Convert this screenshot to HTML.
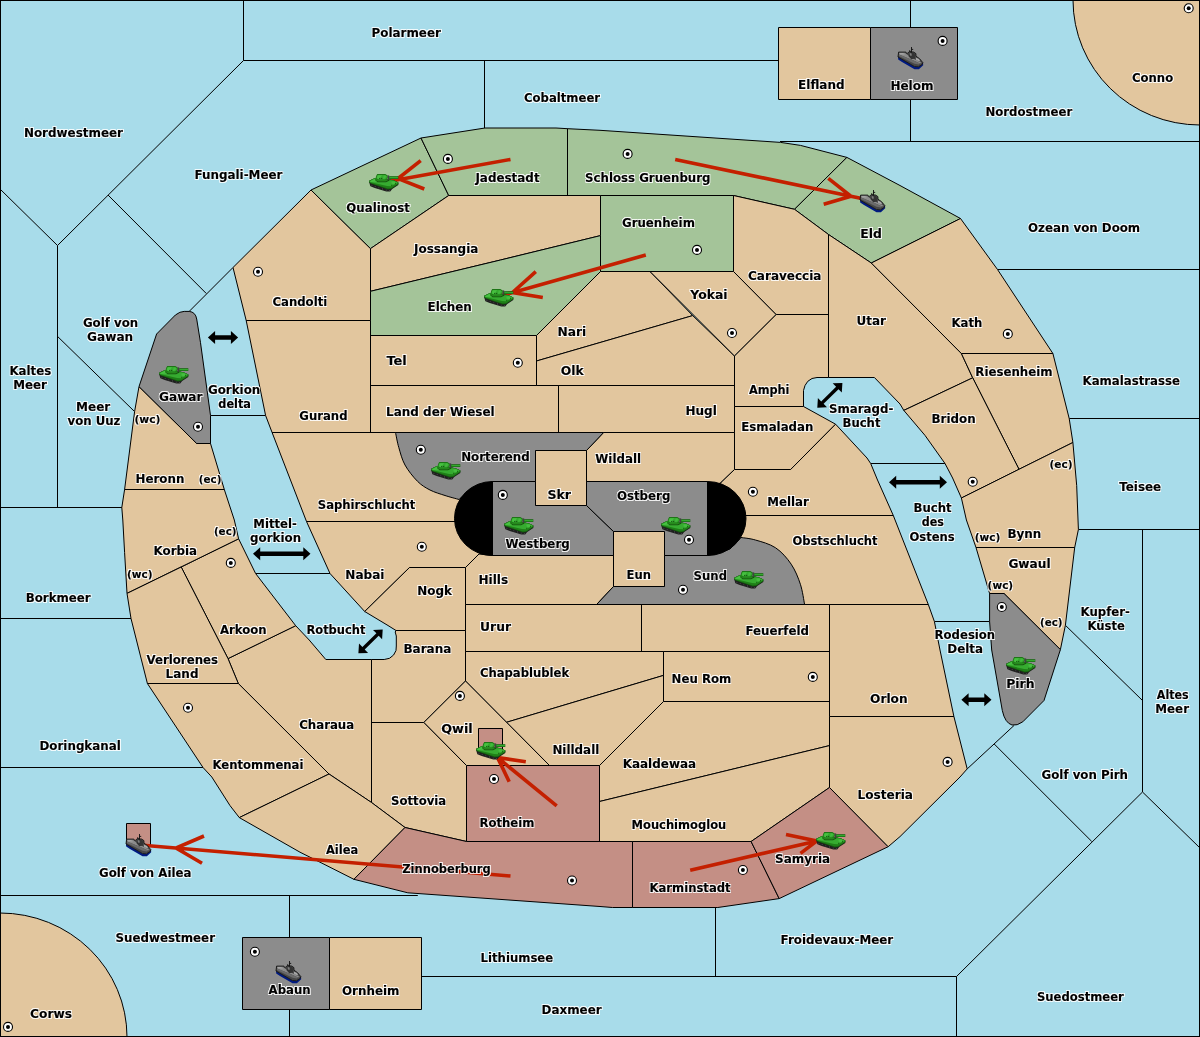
<!DOCTYPE html>
<html lang="de"><head><meta charset="utf-8"><title>Karte</title>
<style>html,body{margin:0;padding:0;background:#a8dcea}svg{display:block}.t{font-family:"DejaVu Sans","Liberation Sans",sans-serif;font-weight:bold;font-size:12px;fill:#000;stroke:#000;stroke-width:.12px}.s{font-size:10.5px}.b{stroke:#000;stroke-width:1}.l{fill:none;stroke:#000;stroke-width:1}.a{stroke:#c42000;stroke-width:3.6;fill:none;stroke-linecap:butt}</style></head><body>
<svg width="1200" height="1037" viewBox="0 0 1200 1037">
<defs>
<g id="tank"><polygon points="0.3,6.7 6.1,3.9 20.8,5.6 25,6.5 29.3,8.6 29.3,11 23.2,15 21.2,17.5 17.3,17.5 5.7,14 1.4,12.2 0.2,8.6" fill="#1f1f1f"/><g fill="#4e4e4e"><circle cx="2.9" cy="11.3" r=".55"/><circle cx="6.2" cy="12.5" r=".55"/><circle cx="9.8" cy="13.7" r=".55"/><circle cx="13.5" cy="14.9" r=".55"/><circle cx="17.2" cy="16.1" r=".55"/><circle cx="20.6" cy="16.4" r=".5"/></g><polygon points="0.3,6.7 6.1,3.9 20.8,5.6 25,6.5 29.3,8.6 29.3,10.3 22.2,15 18.7,15.5 1.7,9.5 0.2,8.5" fill="#155a0e"/><polygon points="0.3,6.7 6.1,3.9 20.8,5.6 25,6.5 29.3,8.6 29.3,9.7 22.2,14.2 18.7,14.6 1.7,8.9 0.3,8.1" fill="#1f7f18"/><polygon points="0.7,7 6.1,4.3 25,6.8 28.9,8.8 21.8,12.2 18,11.9 0.8,8.1" fill="#36ab30"/><polygon points="1.2,7.2 6.1,4.8 8,5 8,7.6 2,8" fill="#48c242"/><polygon points="22.4,7.4 25,7.3 28.2,8.9 24.6,10.2 22.6,9.6" fill="#45be3f"/><rect x="26" y="8.8" width="1" height="1" fill="#15550e"/><rect x="22.2" y="10.8" width="1" height="1" fill="#15550e"/><polygon points="6.45,4.75 8.9,6.1 16.6,6.1 18.7,4.75 20.6,6.6 17,8.3 8.6,8.2 6.2,6.3" fill="#14500d"/><polygon points="6.45,4.6 8.9,6 16.6,6 18.7,4.6 18.7,6.4 16.6,7.5 8.9,7.5 6.45,6.1" fill="#25891c"/><rect x="18.5" y="1.4" width="1.7" height="4.2" fill="#414141"/><rect x="20.1" y="2.2" width="9.2" height="2.8" fill="#176312"/><rect x="20.4" y="2.9" width="8.6" height="1.4" fill="#33aa2e"/><polygon points="8.2,0.1 16.3,0.1 18.7,1.4 18.7,3.8 16.6,6.1 8.9,6.1 6.45,4.75 7.15,1.95" fill="#1d7516"/><polygon points="8.5,0.9 16.1,0.9 17.9,2 17.9,3.7 16.2,5.4 9.2,5.4 7.4,4.3 7.9,2.2" fill="#35a92f"/><polygon points="9.2,1.2 13,1.2 10.4,5 9.4,5 8,4.2 8.4,2.3" fill="#47c041"/><polygon points="14.6,1.6 16.4,1.6 17.4,2.4 15.4,4.8 14,4.8" fill="#42b93c"/><rect x="10.2" y="3.9" width="1" height="1" fill="#0f4209"/><rect x="12.2" y="3.9" width="1" height="1" fill="#0f4209"/></g>
<g id="ship"><polygon points="0,9.5 0.2,12.4 4,15 16.5,22.2 20.9,22.2 25.2,18.2 25,15.6 20.4,19.8 16.5,19.5" fill="#001a80"/><polygon points="0.6,5.1 7.5,5.1 9.2,6.6 11.2,4.6 13,4.9 15.5,5 17.9,6.6 18,9.2 21.6,11.7 24.9,15.7 24,17.7 20.4,19.8 16.5,19.5 0,10" fill="#474747" stroke="#141414" stroke-width="0.9" stroke-linejoin="round"/><polygon points="1.2,5.8 6.8,5.8 11,9 17,12.4 23.6,15.8 22,16.6 15,13.2 1,7.4" fill="#8c8c8c"/><polygon points="1,7.4 15,13.2 22,16.6 20.8,17.6 16.5,16.8 0.8,9" fill="#6a6a6a"/><polygon points="17.8,10.6 21,12 22.4,14.4 18.2,13.2" fill="#a8a8a8"/><polygon points="1.4,5.9 5,5.9 7,7.6 2.4,7.4" fill="#a4a4a4"/><polygon points="10.6,6.4 12.4,5.4 15.2,5.6 16.9,7.2 17,11.6 13.2,12.2 10.8,9.6" fill="#333"/><polygon points="11.4,6.6 13.2,6 14,8.4 12.2,8.8" fill="#7e7e7e"/><path d="M13.5,0 V5.6 M11.6,3.2 L12.3,5.2 M13.5,2.4 H15.2" stroke="#0e0e0e" stroke-width="0.9" fill="none"/></g>
<filter id="n" color-interpolation-filters="sRGB" filterUnits="userSpaceOnUse" x="0" y="0" width="1200" height="1037"><feComponentTransfer in="SourceAlpha" result="a"><feFuncA type="linear" slope="2.2" intercept="-0.7"/></feComponentTransfer><feMorphology in="a" operator="dilate" radius="1" result="d"/><feFlood flood-color="#fff" flood-opacity=".85"/><feComposite in2="d" operator="in" result="h"/><feMerge><feMergeNode in="h"/><feMergeNode in="SourceGraphic"/></feMerge></filter>
</defs>
<rect x="0" y="0" width="1200" height="1037" fill="#a8dcea"/>
<polyline class="l" points="243.5,0 243.5,60.5 778.5,60.5"/>
<polyline class="l" points="243.5,60.5 57.5,245.5"/>
<polyline class="l" points="0,189 57.5,245.5 57.5,507.5"/>
<polyline class="l" points="0,507.5 122,507.5"/>
<polyline class="l" points="108,195 206.3,293.5"/>
<polyline class="l" points="189.2,311.4 233,267.5"/>
<polyline class="l" points="57.5,336.4 134.6,411.6"/>
<polyline class="l" points="484.5,60.5 484.5,128"/>
<polyline class="l" points="910.5,0 910.5,141.5"/>
<polyline class="l" points="780,141.5 1200,141.5"/>
<polyline class="l" points="997.5,269.5 1200,269.5"/>
<polyline class="l" points="1069.2,418.5 1200,418.5"/>
<polyline class="l" points="1078.4,529.5 1200,529.5"/>
<polyline class="l" points="1142.5,529.5 1142.5,792"/>
<polyline class="l" points="1065.4,625.3 1142.5,700.5"/>
<polyline class="l" points="956.5,1037 956.5,976.5 1142.5,792 1200,848"/>
<polyline class="l" points="994,743.8 1091.7,841.4"/>
<polyline class="l" points="1014,725.5 967.2,768.9"/>
<polyline class="l" points="421.5,976.5 956.5,976.5"/>
<polyline class="l" points="715.5,907.5 715.5,976.5"/>
<polyline class="l" points="0,895.5 417.8,895.5"/>
<polyline class="l" points="289.5,895.5 289.5,1037"/>
<polyline class="l" points="0,767.5 203,767.5"/>
<polyline class="l" points="0,618.5 131,618.5"/>
<polyline class="l" points="210.5,415.5 265.7,415.5"/>
<polyline class="l" points="255.6,573.5 330,573.5"/>
<polyline class="l" points="870.7,463.5 945,463.5"/>
<polyline class="l" points="934.4,621.5 989.5,621.5"/>
<ellipse class="b" cx="1200" cy="0" rx="127" ry="125" fill="#e2c69e"/>
<ellipse class="b" cx="0" cy="1037" rx="127" ry="124" fill="#e2c69e"/>
<polygon class="b" fill="#e2c69e" points="233,267.5 311,190 370.5,248.6 370.5,320.5 246.2,320.5"/>
<polygon class="b" fill="#a4c499" points="311,190 421,138 448.7,195.5 370.5,248.6"/>
<polygon class="b" fill="#a4c499" points="421,138 485,128 556,128 567.5,128.7 567.5,195.5 448.7,195.5"/>
<polygon class="b" fill="#a4c499" points="567.5,128.7 600,130.3 780.5,142.4 800.5,145.4 846.9,157.4 794.5,209.3 733.5,195.5 567.5,195.5"/>
<polygon class="b" fill="#a4c499" points="846.9,157.4 900,185.5 960.5,218.5 871.3,263 828.5,234.5 794.5,209.3"/>
<polygon class="b" fill="#a4c499" points="600.5,195.5 733.5,195.5 733.5,271.5 600.5,271.5"/>
<polygon class="b" fill="#e2c69e" points="370.5,248.6 448.7,195.5 600.5,195.5 600.5,235.6 500.5,260 370.5,291.3"/>
<polygon class="b" fill="#a4c499" points="370.5,291.3 500.5,260 600.5,235.6 600.5,271.5 536.5,335.5 370.5,335.5"/>
<polygon class="b" fill="#e2c69e" points="370.5,335.5 536.5,335.5 536.5,385.5 370.5,385.5"/>
<polygon class="b" fill="#e2c69e" points="370.5,385.5 558.5,385.5 558.5,432.5 370.5,432.5"/>
<polygon class="b" fill="#e2c69e" points="246.2,320.5 370.5,320.5 370.5,432.5 272.1,432.5 265.6,415.5"/>
<polygon class="b" fill="#e2c69e" points="536.5,335.5 600.5,271.5 650,271.5 692.7,315.6 536.5,361"/>
<polygon class="b" fill="#e2c69e" points="536.5,361 692.7,315.6 734.5,356 734.5,385.5 536.5,385.5"/>
<polygon class="b" fill="#e2c69e" points="558.5,385.5 734.5,385.5 734.5,432.5 558.5,432.5"/>
<polygon class="b" fill="#e2c69e" points="650,271.5 733.5,271.5 776.2,314.5 734.5,356"/>
<polygon class="b" fill="#e2c69e" points="733.5,271.5 733.5,195.5 794.5,209.3 828.5,234.5 828.5,314.5 776.2,314.5"/>
<polygon class="b" fill="#e2c69e" points="776.2,314.5 828.5,314.5 828.5,377.5 817,377.5 812,378.5 807.8,381.3 805,385.5 803.5,390.5 803.5,406.5 734.5,406.5 734.5,356"/>
<polygon class="b" fill="#e2c69e" points="828.5,234.5 871.3,263 961.4,353.5 972.7,377.8 903.8,410.4 900,404 874.4,377.5 828.5,377.5"/>
<polygon class="b" fill="#e2c69e" points="871.3,263 960.5,218.5 997.5,269.5 1052.9,353.5 961.4,353.5"/>
<polygon class="b" fill="#e2c69e" points="961.4,353.5 1052.9,353.5 1069.2,418.5 1072.9,442.5 1019,469.3 972.7,377.8"/>
<polygon class="b" fill="#e2c69e" points="972.7,377.8 903.8,410.4 925,435.4 945,463.5 952.6,478 961.4,498 1019,469.3"/>
<polygon class="b" fill="#e2c69e" points="961.4,498 1019,469.3 1072.9,442.5 1076.7,485.6 1078.4,529.5 1074.7,547.5 976,547.5 966.4,520"/>
<polygon class="b" fill="#e2c69e" points="976,547.5 1074.7,547.5 1065.4,625.3 1060.4,649.6 1004,593.5 989.6,593.5"/>
<polygon class="b" fill="#e2c69e" points="734.5,406.5 803.5,406.5 835.6,424.2 790.6,469.5 734.5,469.5"/>
<polygon class="b" fill="#e2c69e" points="603.6,432.5 734.5,432.5 734.5,469.5 721,482.5 707.5,490 586.5,490 586.5,450.5"/>
<polygon class="b" fill="#e2c69e" points="734.5,469.5 790.6,469.5 835.6,424.2 867,458 870.7,463.5 877.5,480 893.3,515.5 735,515.5 707.5,500 721,482.5"/>
<polygon class="b" fill="#e2c69e" points="735,515.5 893.3,515.5 928.3,604.5 780,604.5 735,560"/>
<polygon class="b" fill="#e2c69e" points="272.1,432.5 470,432.5 470,521.5 306.5,521.5"/>
<polygon class="b" fill="#e2c69e" points="306.5,521.5 470,521.5 485,554 479,554 465.5,567.5 409.5,567.5 364.7,611.5 330,573.5"/>
<polygon class="b" fill="#e2c69e" points="409.5,567.5 465.5,567.5 465.5,630.5 396,630.5 388,625.5 364.7,611.5"/>
<polygon class="b" fill="#e2c69e" points="479,554 493,555.5 613.5,555.5 613.5,586.5 596.6,604.5 465.5,604.5 465.5,567.5"/>
<polygon class="b" fill="#e2c69e" points="465.5,604.5 641.5,604.5 641.5,651.5 465.5,651.5"/>
<polygon class="b" fill="#e2c69e" points="641.5,604.5 829.5,604.5 829.5,651.5 641.5,651.5"/>
<polygon class="b" fill="#e2c69e" points="396,630.5 465.5,630.5 465.5,681 423.8,722.5 371.5,722.5 371.5,659.5 384.2,659.5 389.5,658.3 393.6,655 396,650.5 396.3,646 396.3,636 395.2,632"/>
<polygon class="b" fill="#e2c69e" points="465.5,651.5 663.5,651.5 663.5,675.4 506.5,722.3 465.5,681"/>
<polygon class="b" fill="#e2c69e" points="663.5,651.5 829.5,651.5 829.5,701.5 663.5,701.5"/>
<polygon class="b" fill="#e2c69e" points="506.5,722.3 663.5,675.4 663.5,701.5 599.5,765.5 549.5,765.5"/>
<polygon class="b" fill="#e2c69e" points="465.5,681 549.5,765.5 466.5,765.5 423.8,722.5"/>
<polygon class="b" fill="#e2c69e" points="663.5,701.5 829.5,701.5 829.5,745.6 599.5,801.5 599.5,765.5"/>
<polygon class="b" fill="#e2c69e" points="599.5,801.5 829.5,745.6 829.5,787.5 751.1,841.5 599.5,841.5"/>
<polygon class="b" fill="#c48f85" points="466.5,765.5 599.5,765.5 599.5,841.5 466.5,841.5"/>
<polygon class="b" fill="#c48f85" points="478.5,728.5 502.5,728.5 502.5,753.5 478.5,753.5"/>
<polygon class="b" fill="#e2c69e" points="371.5,722.5 423.8,722.5 466.5,765.5 466.5,841.5 405,827.5 371.5,802.5"/>
<polygon class="b" fill="#e2c69e" points="228,658.6 295.7,625.7 309.2,640 325.8,659.5 371.5,659.5 371.5,802.5 329,774 238.3,683.5"/>
<polygon class="b" fill="#e2c69e" points="238.6,538.8 255.6,573.5 295.7,625.7 228,658.6 181.2,567"/>
<polygon class="b" fill="#e2c69e" points="124.6,489.5 224.3,489.5 234.3,520 238.6,538.8 127,593.4 124.6,552.6 122.8,520 121.8,507.5"/>
<polygon class="b" fill="#e2c69e" points="139,386.6 196.7,443.5 210.5,443.5 224.3,489.5 124.6,489.5 134.6,411.6"/>
<polygon class="b" fill="#e2c69e" points="127,593.4 181.2,567 228,658.6 238.3,683.5 147.4,683.5 131,618.5"/>
<polygon class="b" fill="#e2c69e" points="147.4,683.5 238.3,683.5 329,774 239.3,817.6 230,805.6 211.8,777 203,767.5"/>
<polygon class="b" fill="#e2c69e" points="329,774 371.5,802.5 405,827.5 353.9,879.3 320,862.2 300,852.2 239.3,817.6"/>
<polygon class="b" fill="#c48f85" points="405,827.5 466.5,841.5 632.5,841.5 632.5,907.5 612.5,907.5 600,906.5 407.8,892.8 353.9,879.3"/>
<polygon class="b" fill="#c48f85" points="632.5,841.5 751.1,841.5 779.2,898.6 717.8,907.5 632.5,907.5"/>
<polygon class="b" fill="#c48f85" points="751.1,841.5 829.5,787.5 888.2,846.7 779.2,898.6"/>
<polygon class="b" fill="#e2c69e" points="829.5,716.5 953.9,716.5 967.2,768.9 960,777 900,836.6 888.2,846.7 829.5,787.5"/>
<polygon class="b" fill="#e2c69e" points="829.5,604.5 928.3,604.5 934.4,621.5 940,650 953.9,716.5 829.5,716.5"/>
<polygon class="b" fill="#e2c69e" points="778.5,27.5 870.5,27.5 870.5,99.5 778.5,99.5"/>
<polygon class="b" fill="#8c8c8c" points="870.5,27.5 957.5,27.5 957.5,99.5 870.5,99.5"/>
<polygon class="b" fill="#8c8c8c" points="242.5,937.5 329.5,937.5 329.5,1009.5 242.5,1009.5"/>
<polygon class="b" fill="#e2c69e" points="329.5,937.5 421.5,937.5 421.5,1009.5 329.5,1009.5"/>
<polygon class="b" fill="#c48f85" points="126.5,823.5 150.5,823.5 150.5,845.5 126.5,845.5"/>
<polygon class="b" fill="#e2c69e" points="535.5,450.5 586.5,450.5 586.5,505.5 535.5,505.5"/>
<polygon class="b" fill="#e2c69e" points="613.5,531.5 664.5,531.5 664.5,586.5 613.5,586.5"/>
<polygon class="b" fill="#8c8c8c" points="492.5,481.5 535.5,481.5 535.5,505.5 586.5,505.5 613.5,531.5 613.5,555.5 492.5,555.5"/>
<polygon class="b" fill="#8c8c8c" points="586.5,481.5 707.5,481.5 707.5,555.5 664.5,555.5 664.5,531.5 613.5,531.5 586.5,505.5"/>
<path class="b" fill="#8c8c8c" d="M395.5,432.5 L603.6,432.5 L586.5,450.5 L535.5,450.5 L535.5,481.5 L492.5,481.5 L470,490 L459,499.5 C456.7,498.8 449.8,497.1 445,495.5 C440.2,493.9 434.6,492.4 430,490 C425.4,487.6 421.7,485.5 417.5,481.3 C413.3,477.1 408.1,470.6 405,465 C401.9,459.4 400.4,452.9 398.8,447.5 C397.2,442.1 396.1,435.0 395.5,432.5 Z"/>
<path class="b" fill="#8c8c8c" d="M596.6,604.5 L613.5,586.5 L664.5,586.5 L664.5,555.5 L707.5,555.5 L730,549 L741,537.5 C743.4,537.9 749.6,538.3 755.4,540 C761.2,541.7 769.6,543.8 775.6,547.8 C781.6,551.8 787.1,558.1 791.2,564.2 C795.3,570.3 798.2,577.6 800.4,584.3 C802.6,591.0 803.9,601.1 804.6,604.5 Z"/>
<path class="b" fill="#8c8c8c" d="M139,386.6 L156.6,334 L175.4,315 Q180,311.4 184.2,311.4 L189.2,311.4 Q195.5,312 196.7,319 L200.5,342.7 L210.5,415.5 L210.5,443.5 L196.7,443.5 Z"/>
<path class="b" fill="#8c8c8c" d="M989.6,593.5 L1004,593.5 L1060.4,649.6 L1044,700.5 L1022.8,721.8 Q1017,726 1012,725 Q1005,723 1002.3,710.5 L991.7,650 L989.6,621.5 Z"/>
<path d="M492.5,481.5 A38,37 0 0 0 492.5,555.5 Z" fill="#000" stroke="#000" stroke-width="1"/>
<path d="M707.5,481.5 A38.5,37 0 0 1 707.5,555.5 Z" fill="#000" stroke="#000" stroke-width="1"/>
<rect x="0.5" y="0.5" width="1199" height="1036" fill="none" stroke="#000" stroke-width="1"/>
<polygon fill="#000" points="207.9,337.5 215.1,344 215.1,339.7 230.9,339.7 230.9,344 238.1,337.5 230.9,331 230.9,335.3 215.1,335.3 215.1,331"/>
<polygon fill="#000" points="889,482.3 896.2,488.8 896.2,484.5 939.8,484.5 939.8,488.8 947,482.3 939.8,475.8 939.8,480.1 896.2,480.1 896.2,475.8"/>
<polygon fill="#000" points="253,553.8 260.2,560.3 260.2,556 303.3,556 303.3,560.3 310.5,553.8 303.3,547.3 303.3,551.6 260.2,551.6 260.2,547.3"/>
<polygon fill="#000" points="961.4,699.7 968.6,706.2 968.6,701.9 984.3,701.9 984.3,706.2 991.5,699.7 984.3,693.2 984.3,697.5 968.6,697.5 968.6,693.2"/>
<polygon fill="#000" points="817.3,407.7 827,407.3 823.6,403.8 838.5,389.2 841.8,392.6 842.4,382.9 832.7,383.3 836.1,386.8 821.2,401.4 817.9,398"/>
<polygon fill="#000" points="358.4,653.3 368.1,652.9 364.7,649.5 378.7,635.8 382.1,639.2 382.7,629.5 373,629.9 376.4,633.3 362.4,647 359,643.6"/>
<circle cx="447.9" cy="158.9" r="4.5" fill="#fff" stroke="#000" stroke-width="1.1"/><circle cx="447.9" cy="158.9" r="2" fill="#000"/>
<circle cx="627.6" cy="153.9" r="4.5" fill="#fff" stroke="#000" stroke-width="1.1"/><circle cx="627.6" cy="153.9" r="2" fill="#000"/>
<circle cx="697" cy="249.9" r="4.5" fill="#fff" stroke="#000" stroke-width="1.1"/><circle cx="697" cy="249.9" r="2" fill="#000"/>
<circle cx="942.6" cy="40.9" r="4.5" fill="#fff" stroke="#000" stroke-width="1.1"/><circle cx="942.6" cy="40.9" r="2" fill="#000"/>
<circle cx="1188.7" cy="8.3" r="4.5" fill="#fff" stroke="#000" stroke-width="1.1"/><circle cx="1188.7" cy="8.3" r="2" fill="#000"/>
<circle cx="198" cy="426.7" r="4.5" fill="#fff" stroke="#000" stroke-width="1.1"/><circle cx="198" cy="426.7" r="2" fill="#000"/>
<circle cx="258" cy="271.8" r="4.5" fill="#fff" stroke="#000" stroke-width="1.1"/><circle cx="258" cy="271.8" r="2" fill="#000"/>
<circle cx="517.8" cy="362.8" r="4.5" fill="#fff" stroke="#000" stroke-width="1.1"/><circle cx="517.8" cy="362.8" r="2" fill="#000"/>
<circle cx="420.8" cy="449.7" r="4.5" fill="#fff" stroke="#000" stroke-width="1.1"/><circle cx="420.8" cy="449.7" r="2" fill="#000"/>
<circle cx="502.8" cy="494.9" r="4.5" fill="#fff" stroke="#000" stroke-width="1.1"/><circle cx="502.8" cy="494.9" r="2" fill="#000"/>
<circle cx="732" cy="333" r="4.5" fill="#fff" stroke="#000" stroke-width="1.1"/><circle cx="732" cy="333" r="2" fill="#000"/>
<circle cx="752.9" cy="491.8" r="4.5" fill="#fff" stroke="#000" stroke-width="1.1"/><circle cx="752.9" cy="491.8" r="2" fill="#000"/>
<circle cx="1007.8" cy="333.9" r="4.5" fill="#fff" stroke="#000" stroke-width="1.1"/><circle cx="1007.8" cy="333.9" r="2" fill="#000"/>
<circle cx="972.7" cy="481.8" r="4.5" fill="#fff" stroke="#000" stroke-width="1.1"/><circle cx="972.7" cy="481.8" r="2" fill="#000"/>
<circle cx="230.8" cy="562.9" r="4.5" fill="#fff" stroke="#000" stroke-width="1.1"/><circle cx="230.8" cy="562.9" r="2" fill="#000"/>
<circle cx="188" cy="707.7" r="4.5" fill="#fff" stroke="#000" stroke-width="1.1"/><circle cx="188" cy="707.7" r="2" fill="#000"/>
<circle cx="421.8" cy="546.8" r="4.5" fill="#fff" stroke="#000" stroke-width="1.1"/><circle cx="421.8" cy="546.8" r="2" fill="#000"/>
<circle cx="459.9" cy="695.9" r="4.5" fill="#fff" stroke="#000" stroke-width="1.1"/><circle cx="459.9" cy="695.9" r="2" fill="#000"/>
<circle cx="494" cy="779" r="4.5" fill="#fff" stroke="#000" stroke-width="1.1"/><circle cx="494" cy="779" r="2" fill="#000"/>
<circle cx="689" cy="539.7" r="4.5" fill="#fff" stroke="#000" stroke-width="1.1"/><circle cx="689" cy="539.7" r="2" fill="#000"/>
<circle cx="683" cy="589.8" r="4.5" fill="#fff" stroke="#000" stroke-width="1.1"/><circle cx="683" cy="589.8" r="2" fill="#000"/>
<circle cx="812.8" cy="676.9" r="4.5" fill="#fff" stroke="#000" stroke-width="1.1"/><circle cx="812.8" cy="676.9" r="2" fill="#000"/>
<circle cx="1001.8" cy="607" r="4.5" fill="#fff" stroke="#000" stroke-width="1.1"/><circle cx="1001.8" cy="607" r="2" fill="#000"/>
<circle cx="947.6" cy="761.9" r="4.5" fill="#fff" stroke="#000" stroke-width="1.1"/><circle cx="947.6" cy="761.9" r="2" fill="#000"/>
<circle cx="8" cy="1026.9" r="4.5" fill="#fff" stroke="#000" stroke-width="1.1"/><circle cx="8" cy="1026.9" r="2" fill="#000"/>
<circle cx="254.9" cy="951.7" r="4.5" fill="#fff" stroke="#000" stroke-width="1.1"/><circle cx="254.9" cy="951.7" r="2" fill="#000"/>
<circle cx="572" cy="880.5" r="4.5" fill="#fff" stroke="#000" stroke-width="1.1"/><circle cx="572" cy="880.5" r="2" fill="#000"/>
<circle cx="742.9" cy="870" r="4.5" fill="#fff" stroke="#000" stroke-width="1.1"/><circle cx="742.9" cy="870" r="2" fill="#000"/>
<path class="a" d="M510.5,159.4 L384,182.3 M420.7,160.7 L398,178.6 L424.3,189"/>
<path class="a" d="M675.2,159.4 L870,200.3 M828.3,178.3 L851,196.3 L823.7,204.3"/>
<path class="a" d="M645.8,255 L499,296.3 M535.8,271.7 L512.5,292.5 L542.8,297.5"/>
<path class="a" d="M556.7,805.8 L489.5,751 M525.8,761.7 L497.5,757.5 L509.2,781.7"/>
<path class="a" d="M510.5,876 L140,845 M204,836 L176,848 L202,863.3"/>
<path class="a" d="M690.2,870.2 L830,838 M786,834.6 L816.8,841 L800.5,853.4"/>
<use href="#tank" x="369" y="174"/>
<use href="#tank" x="484" y="289"/>
<use href="#tank" x="159" y="366"/>
<use href="#tank" x="431" y="462"/>
<use href="#tank" x="504" y="517"/>
<use href="#tank" x="661" y="517"/>
<use href="#tank" x="734" y="571"/>
<use href="#tank" x="476" y="742"/>
<use href="#tank" x="1006" y="657"/>
<use href="#tank" x="816" y="832"/>
<use href="#ship" x="860" y="190"/>
<use href="#ship" x="898" y="47"/>
<use href="#ship" x="126" y="834"/>
<use href="#ship" x="276" y="961"/>
<g filter="url(#n)">
<text class="t" x="23.9" y="137" textLength="99.1" lengthAdjust="spacingAndGlyphs">Nordwestmeer</text>
<text class="t" x="194.4" y="179" textLength="88.1" lengthAdjust="spacingAndGlyphs">Fungali-Meer</text>
<text class="t" x="371.6" y="37" textLength="69.3" lengthAdjust="spacingAndGlyphs">Polarmeer</text>
<text class="t" x="524.0" y="102" textLength="76.1" lengthAdjust="spacingAndGlyphs">Cobaltmeer</text>
<text class="t" x="475.4" y="182" textLength="64.2" lengthAdjust="spacingAndGlyphs">Jadestadt</text>
<text class="t" x="346.3" y="212" textLength="63.5" lengthAdjust="spacingAndGlyphs">Qualinost</text>
<text class="t" x="414.0" y="253" textLength="64.4" lengthAdjust="spacingAndGlyphs">Jossangia</text>
<text class="t" x="585.1" y="182" textLength="125.4" lengthAdjust="spacingAndGlyphs">Schloss Gruenburg</text>
<text class="t" x="622.0" y="227" textLength="72.9" lengthAdjust="spacingAndGlyphs">Gruenheim</text>
<text class="t" x="798.1" y="89" textLength="46.5" lengthAdjust="spacingAndGlyphs">Elfland</text>
<text class="t" x="860.2" y="238" textLength="21.6" lengthAdjust="spacingAndGlyphs">Eld</text>
<text class="t" x="890.4" y="90" textLength="43.1" lengthAdjust="spacingAndGlyphs">Helom</text>
<text class="t" x="985.4" y="116" textLength="86.8" lengthAdjust="spacingAndGlyphs">Nordostmeer</text>
<text class="t" x="1132.0" y="82" textLength="41.2" lengthAdjust="spacingAndGlyphs">Conno</text>
<text class="t" x="1028.0" y="232" textLength="112.2" lengthAdjust="spacingAndGlyphs">Ozean von Doom</text>
<text class="t" x="82.9" y="327" textLength="55.3" lengthAdjust="spacingAndGlyphs">Golf von</text>
<text class="t" x="87.1" y="341" textLength="46.1" lengthAdjust="spacingAndGlyphs">Gawan</text>
<text class="t" x="9.4" y="375" textLength="41.8" lengthAdjust="spacingAndGlyphs">Kaltes</text>
<text class="t" x="13.2" y="389" textLength="33.7" lengthAdjust="spacingAndGlyphs">Meer</text>
<text class="t" x="76.1" y="411" textLength="34.2" lengthAdjust="spacingAndGlyphs">Meer</text>
<text class="t" x="67.5" y="425" textLength="52.9" lengthAdjust="spacingAndGlyphs">von Uuz</text>
<text class="t" x="159.0" y="401" textLength="43.5" lengthAdjust="spacingAndGlyphs">Gawar</text>
<text class="t" x="207.9" y="394" textLength="52.4" lengthAdjust="spacingAndGlyphs">Gorkion</text>
<text class="t" x="218.3" y="408" textLength="32.7" lengthAdjust="spacingAndGlyphs">delta</text>
<text class="t" x="135.5" y="483" textLength="48.9" lengthAdjust="spacingAndGlyphs">Heronn</text>
<text class="t" x="272.4" y="306" textLength="54.9" lengthAdjust="spacingAndGlyphs">Candolti</text>
<text class="t" x="427.5" y="311" textLength="44.3" lengthAdjust="spacingAndGlyphs">Elchen</text>
<text class="t" x="557.5" y="336" textLength="28.7" lengthAdjust="spacingAndGlyphs">Nari</text>
<text class="t" x="386.4" y="365" textLength="20.4" lengthAdjust="spacingAndGlyphs">Tel</text>
<text class="t" x="560.8" y="375" textLength="23.0" lengthAdjust="spacingAndGlyphs">Olk</text>
<text class="t" x="386.1" y="416" textLength="108.6" lengthAdjust="spacingAndGlyphs">Land der Wiesel</text>
<text class="t" x="299.3" y="420" textLength="48.2" lengthAdjust="spacingAndGlyphs">Gurand</text>
<text class="t" x="461.2" y="461" textLength="68.5" lengthAdjust="spacingAndGlyphs">Norterend</text>
<text class="t" x="547.4" y="499" textLength="23.7" lengthAdjust="spacingAndGlyphs">Skr</text>
<text class="t" x="317.8" y="509" textLength="97.6" lengthAdjust="spacingAndGlyphs">Saphirschlucht</text>
<text class="t" x="748.0" y="280" textLength="73.5" lengthAdjust="spacingAndGlyphs">Caraveccia</text>
<text class="t" x="690.3" y="299" textLength="37.3" lengthAdjust="spacingAndGlyphs">Yokai</text>
<text class="t" x="856.5" y="325" textLength="29.4" lengthAdjust="spacingAndGlyphs">Utar</text>
<text class="t" x="748.9" y="394" textLength="40.6" lengthAdjust="spacingAndGlyphs">Amphi</text>
<text class="t" x="685.4" y="415" textLength="31.4" lengthAdjust="spacingAndGlyphs">Hugl</text>
<text class="t" x="741.3" y="431" textLength="72.1" lengthAdjust="spacingAndGlyphs">Esmaladan</text>
<text class="t" x="828.9" y="413" textLength="64.4" lengthAdjust="spacingAndGlyphs">Smaragd-</text>
<text class="t" x="842.5" y="427" textLength="38.0" lengthAdjust="spacingAndGlyphs">Bucht</text>
<text class="t" x="595.3" y="463" textLength="45.7" lengthAdjust="spacingAndGlyphs">Wildall</text>
<text class="t" x="616.9" y="500" textLength="53.5" lengthAdjust="spacingAndGlyphs">Ostberg</text>
<text class="t" x="767.3" y="506" textLength="41.5" lengthAdjust="spacingAndGlyphs">Mellar</text>
<text class="t" x="951.5" y="327" textLength="30.8" lengthAdjust="spacingAndGlyphs">Kath</text>
<text class="t" x="975.3" y="376" textLength="77.3" lengthAdjust="spacingAndGlyphs">Riesenheim</text>
<text class="t" x="1082.6" y="385" textLength="97.4" lengthAdjust="spacingAndGlyphs">Kamalastrasse</text>
<text class="t" x="931.5" y="423" textLength="44.1" lengthAdjust="spacingAndGlyphs">Bridon</text>
<text class="t" x="1119.2" y="491" textLength="42.0" lengthAdjust="spacingAndGlyphs">Teisee</text>
<text class="t" x="913.5" y="512" textLength="38.1" lengthAdjust="spacingAndGlyphs">Bucht</text>
<text class="t" x="921.7" y="526" textLength="22.2" lengthAdjust="spacingAndGlyphs">des</text>
<text class="t" x="909.4" y="541" textLength="45.3" lengthAdjust="spacingAndGlyphs">Ostens</text>
<text class="t" x="153.5" y="555" textLength="43.6" lengthAdjust="spacingAndGlyphs">Korbia</text>
<text class="t" x="25.7" y="602" textLength="65.0" lengthAdjust="spacingAndGlyphs">Borkmeer</text>
<text class="t" x="219.9" y="634" textLength="46.7" lengthAdjust="spacingAndGlyphs">Arkoon</text>
<text class="t" x="146.5" y="664" textLength="71.5" lengthAdjust="spacingAndGlyphs">Verlorenes</text>
<text class="t" x="165.6" y="678" textLength="32.9" lengthAdjust="spacingAndGlyphs">Land</text>
<text class="t" x="39.5" y="750" textLength="81.3" lengthAdjust="spacingAndGlyphs">Doringkanal</text>
<text class="t" x="212.4" y="769" textLength="91.1" lengthAdjust="spacingAndGlyphs">Kentommenai</text>
<text class="t" x="253.3" y="528" textLength="43.5" lengthAdjust="spacingAndGlyphs">Mittel-</text>
<text class="t" x="250.1" y="542" textLength="51.0" lengthAdjust="spacingAndGlyphs">gorkion</text>
<text class="t" x="505.5" y="548" textLength="64.2" lengthAdjust="spacingAndGlyphs">Westberg</text>
<text class="t" x="345.3" y="579" textLength="39.2" lengthAdjust="spacingAndGlyphs">Nabai</text>
<text class="t" x="417.2" y="595" textLength="34.7" lengthAdjust="spacingAndGlyphs">Nogk</text>
<text class="t" x="478.4" y="584" textLength="29.7" lengthAdjust="spacingAndGlyphs">Hills</text>
<text class="t" x="480.1" y="631" textLength="30.9" lengthAdjust="spacingAndGlyphs">Urur</text>
<text class="t" x="306.4" y="634" textLength="59.1" lengthAdjust="spacingAndGlyphs">Rotbucht</text>
<text class="t" x="403.4" y="653" textLength="47.9" lengthAdjust="spacingAndGlyphs">Barana</text>
<text class="t" x="479.9" y="677" textLength="89.3" lengthAdjust="spacingAndGlyphs">Chapablublek</text>
<text class="t" x="299.2" y="729" textLength="55.0" lengthAdjust="spacingAndGlyphs">Charaua</text>
<text class="t" x="441.2" y="733" textLength="31.5" lengthAdjust="spacingAndGlyphs">Qwil</text>
<text class="t" x="552.4" y="754" textLength="46.9" lengthAdjust="spacingAndGlyphs">Nilldall</text>
<text class="t" x="792.4" y="545" textLength="85.2" lengthAdjust="spacingAndGlyphs">Obstschlucht</text>
<text class="t" x="626.5" y="579" textLength="24.5" lengthAdjust="spacingAndGlyphs">Eun</text>
<text class="t" x="693.6" y="580" textLength="33.4" lengthAdjust="spacingAndGlyphs">Sund</text>
<text class="t" x="745.5" y="635" textLength="63.5" lengthAdjust="spacingAndGlyphs">Feuerfeld</text>
<text class="t" x="671.6" y="683" textLength="59.7" lengthAdjust="spacingAndGlyphs">Neu Rom</text>
<text class="t" x="870.1" y="703" textLength="37.5" lengthAdjust="spacingAndGlyphs">Orlon</text>
<text class="t" x="622.7" y="768" textLength="73.4" lengthAdjust="spacingAndGlyphs">Kaaldewaa</text>
<text class="t" x="1007.4" y="538" textLength="33.9" lengthAdjust="spacingAndGlyphs">Bynn</text>
<text class="t" x="1008.4" y="568" textLength="42.2" lengthAdjust="spacingAndGlyphs">Gwaul</text>
<text class="t" x="1080.6" y="616" textLength="49.4" lengthAdjust="spacingAndGlyphs">Kupfer-</text>
<text class="t" x="1087.4" y="630" textLength="37.5" lengthAdjust="spacingAndGlyphs">Küste</text>
<text class="t" x="934.6" y="639" textLength="60.6" lengthAdjust="spacingAndGlyphs">Rodesion</text>
<text class="t" x="947.3" y="653" textLength="35.8" lengthAdjust="spacingAndGlyphs">Delta</text>
<text class="t" x="1006.2" y="688" textLength="28.3" lengthAdjust="spacingAndGlyphs">Pirh</text>
<text class="t" x="1156.8" y="699" textLength="31.9" lengthAdjust="spacingAndGlyphs">Altes</text>
<text class="t" x="1155.3" y="713" textLength="33.7" lengthAdjust="spacingAndGlyphs">Meer</text>
<text class="t" x="1041.5" y="779" textLength="86.5" lengthAdjust="spacingAndGlyphs">Golf von Pirh</text>
<text class="t" x="99.1" y="877" textLength="92.3" lengthAdjust="spacingAndGlyphs">Golf von Ailea</text>
<text class="t" x="115.6" y="942" textLength="99.4" lengthAdjust="spacingAndGlyphs">Suedwestmeer</text>
<text class="t" x="30.0" y="1018" textLength="42.0" lengthAdjust="spacingAndGlyphs">Corws</text>
<text class="t" x="268.6" y="994" textLength="42.0" lengthAdjust="spacingAndGlyphs">Abaun</text>
<text class="t" x="391.1" y="805" textLength="55.1" lengthAdjust="spacingAndGlyphs">Sottovia</text>
<text class="t" x="479.4" y="827" textLength="55.0" lengthAdjust="spacingAndGlyphs">Rotheim</text>
<text class="t" x="325.9" y="854" textLength="32.3" lengthAdjust="spacingAndGlyphs">Ailea</text>
<text class="t" x="402.3" y="873" textLength="88.4" lengthAdjust="spacingAndGlyphs">Zinnoberburg</text>
<text class="t" x="480.6" y="962" textLength="72.6" lengthAdjust="spacingAndGlyphs">Lithiumsee</text>
<text class="t" x="342.0" y="995" textLength="57.4" lengthAdjust="spacingAndGlyphs">Ornheim</text>
<text class="t" x="541.5" y="1014" textLength="60.1" lengthAdjust="spacingAndGlyphs">Daxmeer</text>
<text class="t" x="631.5" y="829" textLength="94.8" lengthAdjust="spacingAndGlyphs">Mouchimoglou</text>
<text class="t" x="775.1" y="863" textLength="55.1" lengthAdjust="spacingAndGlyphs">Samyria</text>
<text class="t" x="649.5" y="892" textLength="81.1" lengthAdjust="spacingAndGlyphs">Karminstadt</text>
<text class="t" x="780.6" y="944" textLength="112.6" lengthAdjust="spacingAndGlyphs">Froidevaux-Meer</text>
<text class="t" x="857.5" y="799" textLength="55.5" lengthAdjust="spacingAndGlyphs">Losteria</text>
<text class="t" x="1036.9" y="1001" textLength="86.9" lengthAdjust="spacingAndGlyphs">Suedostmeer</text>
<text class="t s" x="134.4" y="423" textLength="26.1" lengthAdjust="spacingAndGlyphs">(wc)</text>
<text class="t s" x="198.8" y="483" textLength="22.7" lengthAdjust="spacingAndGlyphs">(ec)</text>
<text class="t s" x="1049.5" y="468" textLength="23.1" lengthAdjust="spacingAndGlyphs">(ec)</text>
<text class="t s" x="213.9" y="535" textLength="22.6" lengthAdjust="spacingAndGlyphs">(ec)</text>
<text class="t s" x="126.9" y="578" textLength="25.6" lengthAdjust="spacingAndGlyphs">(wc)</text>
<text class="t s" x="974.8" y="541" textLength="25.6" lengthAdjust="spacingAndGlyphs">(wc)</text>
<text class="t s" x="987.6" y="589" textLength="25.6" lengthAdjust="spacingAndGlyphs">(wc)</text>
<text class="t s" x="1040.0" y="626" textLength="22.6" lengthAdjust="spacingAndGlyphs">(ec)</text>
</g>
</svg></body></html>
